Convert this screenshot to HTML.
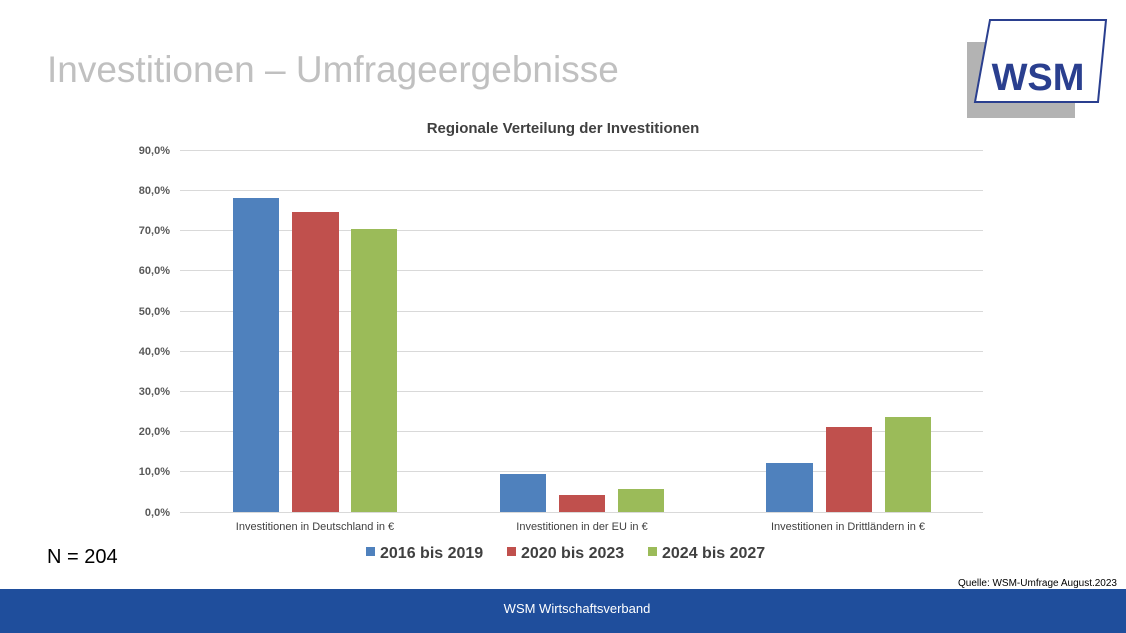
<!DOCTYPE html>
<html><head><meta charset="utf-8"><style>
body{margin:0;width:1126px;height:633px;background:#fff;position:relative;overflow:hidden;font-family:"Liberation Sans",sans-serif}
.t{position:absolute;white-space:nowrap}
</style></head><body>
<div class="t" style="left:47px;top:49px;font-size:37px;color:#c0c0c0">Investitionen – Umfrageergebnisse</div>
<svg style="position:absolute;left:0;top:0" width="1126" height="633">
<polygon points="967,42 985,42 985,100 1075,100 1075,118 967,118" fill="#b3b3b3"/>
<polygon points="990,20 1106,20 1098,102 975,102" fill="#fff" stroke="#2a3f8f" stroke-width="2"/>
<text x="1038" y="90" text-anchor="middle" font-size="38" font-weight="bold" fill="#2a3f8f" font-family="Liberation Sans">WSM</text>
<text x="563" y="133" text-anchor="middle" font-size="15" font-weight="bold" fill="#404040">Regionale Verteilung der Investitionen</text>
<g stroke="#d9d9d9" stroke-width="1">
<line x1="180" x2="983" y1="150.5" y2="150.5"/><line x1="180" x2="983" y1="190.5" y2="190.5"/><line x1="180" x2="983" y1="230.5" y2="230.5"/><line x1="180" x2="983" y1="270.5" y2="270.5"/><line x1="180" x2="983" y1="311.5" y2="311.5"/><line x1="180" x2="983" y1="351.5" y2="351.5"/><line x1="180" x2="983" y1="391.5" y2="391.5"/><line x1="180" x2="983" y1="431.5" y2="431.5"/><line x1="180" x2="983" y1="471.5" y2="471.5"/><line x1="180" x2="983" y1="512.5" y2="512.5"/>
</g>
<g font-size="11" font-weight="bold" fill="#595959" text-anchor="end">
<text x="170" y="154">90,0%</text><text x="170" y="194">80,0%</text><text x="170" y="234">70,0%</text><text x="170" y="274">60,0%</text><text x="170" y="315">50,0%</text><text x="170" y="355">40,0%</text><text x="170" y="395">30,0%</text><text x="170" y="435">20,0%</text><text x="170" y="475">10,0%</text><text x="170" y="516">0,0%</text>
</g>
<g fill="#4f81bd"><rect x="233" y="198" width="46" height="314"/><rect x="500" y="474" width="46" height="38"/><rect x="766" y="463" width="47" height="49"/></g>
<g fill="#c0504d"><rect x="292" y="212" width="47" height="300"/><rect x="559" y="495" width="46" height="17"/><rect x="826" y="427" width="46" height="85"/></g>
<g fill="#9bbb59"><rect x="351" y="229" width="46" height="283"/><rect x="618" y="489" width="46" height="23"/><rect x="885" y="417" width="46" height="95"/></g>
<g font-size="11" fill="#404040" text-anchor="middle">
<text x="315" y="530">Investitionen in Deutschland in €</text><text x="582" y="530">Investitionen in der EU in €</text><text x="848" y="530">Investitionen in Drittländern in €</text>
</g>
<g font-size="16" font-weight="bold" fill="#404040">
<rect x="366" y="547" width="9" height="9" fill="#4f81bd"/><text x="380" y="558">2016 bis 2019</text>
<rect x="507" y="547" width="9" height="9" fill="#c0504d"/><text x="521" y="558">2020 bis 2023</text>
<rect x="648" y="547" width="9" height="9" fill="#9bbb59"/><text x="662" y="558">2024 bis 2027</text>
</g>
<text x="47" y="563" font-size="20" fill="#000">N = 204</text>
<text x="1117" y="586" font-size="10" fill="#000" text-anchor="end">Quelle:  WSM-Umfrage  August.2023</text>
<rect x="0" y="589" width="1126" height="44" fill="#1f4e9c"/>
<text x="577" y="613" font-size="13" fill="#fff" text-anchor="middle">WSM Wirtschaftsverband</text>
</svg>
</body></html>
